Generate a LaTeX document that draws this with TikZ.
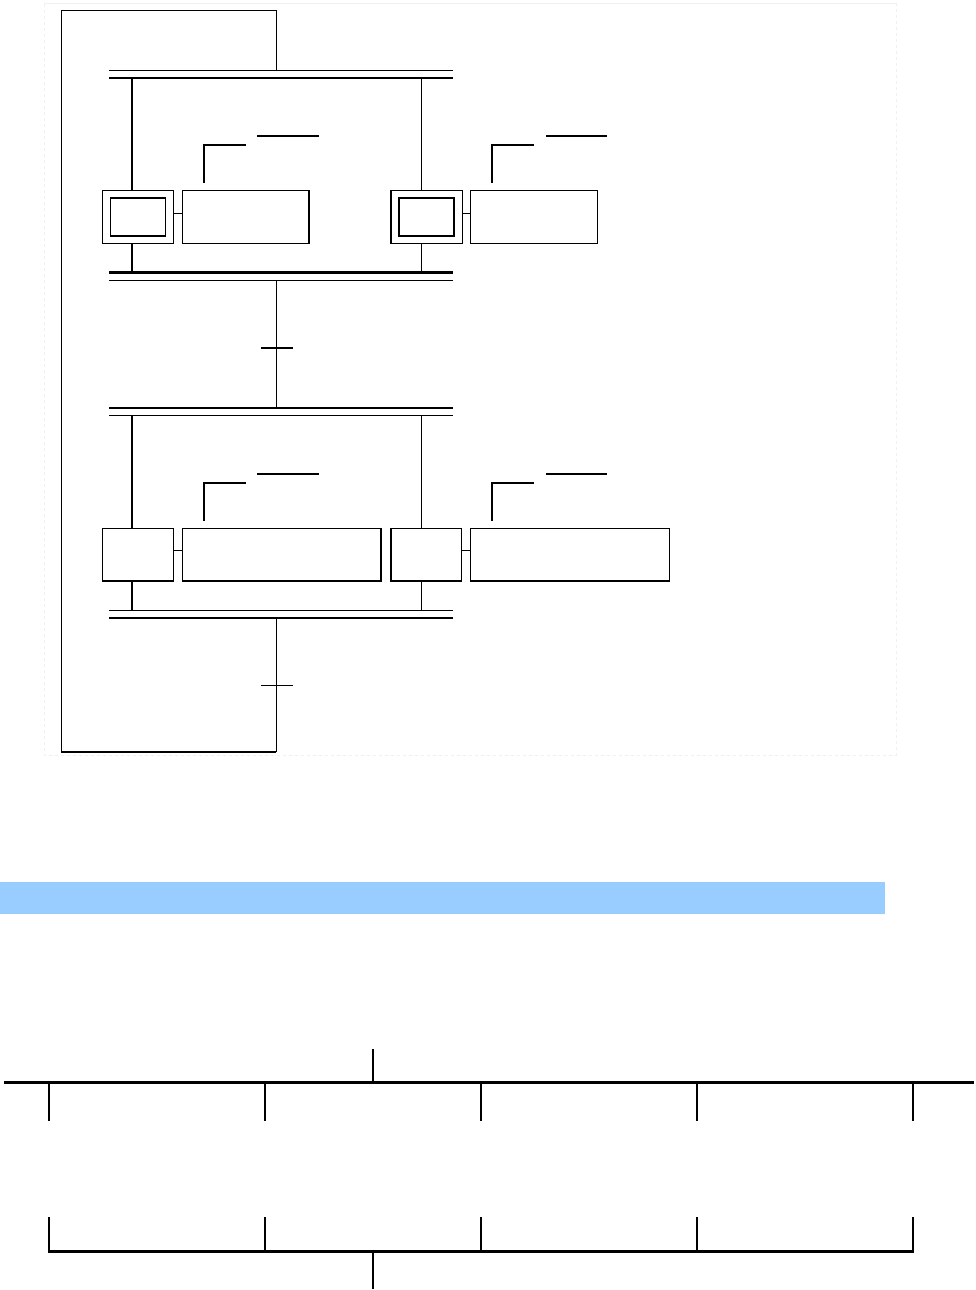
\documentclass[tikz,border=0pt]{standalone}
\definecolor{bandblue}{HTML}{99CCFF}
\begin{document}
\begin{tikzpicture}[x=1pt,y=-1pt,
  thinline/.style={line width=1pt},
  thickline/.style={line width=2.2pt},
  box/.style={draw, line width=1.3pt, inner sep=0pt, anchor=north west},
  innerbox/.style={draw, line width=1.6pt, inner sep=0pt, minimum width=55pt, minimum height=38pt},
  bracket/.style={line width=1.6pt},
  overbar/.style={line width=1.5pt},
  heavy/.style={line width=3pt},
  stub/.style={line width=2pt}
]
\useasboundingbox (0,0) rectangle (976,1290);
\fill[white] (0,0) rectangle (976,1290);
% faint frame
\draw[black!6, line width=0.8pt] (44,3) -- (896,3);
\draw[black!6, dashed, line width=0.8pt] (896,3) -- (896,755) -- (44,755) -- (44,3);

% ---------- group 1 ----------
\node[box, minimum width=71pt, minimum height=53pt] (s1) at (101.7,190) {};
\node[innerbox] (s1i) at (s1.center) {};
\node[box, minimum width=126.6pt, minimum height=53pt] (a1) at (181.7,190) {};
\node[box, minimum width=71.4pt, minimum height=53pt] (s2) at (390.3,190) {};
\node[innerbox] (s2i) at (s2.center) {};
\node[box, minimum width=127.5pt, minimum height=53pt] (a2) at (469.5,190) {};
\draw[thinline] ([yshift=3.5pt]s1.east) -- ([yshift=3.5pt]a1.west);
\draw[line width=1.6pt] ([yshift=3.5pt]s2.east) -- ([yshift=3.5pt]a2.west);

\coordinate (d1l) at (109,71);  \coordinate (d1r) at (453,71);
\coordinate (d2l) at (109,78);  \coordinate (d2r) at (453,78);
\draw[thinline] (d1l) -- (d1r);
\draw[thickline] (d2l) -- (d2r);
\coordinate (c1l) at (109,272.5); \coordinate (c1r) at (453,272.5);
\coordinate (c2l) at (109,280);   \coordinate (c2r) at (453,280);
\draw[thickline] (c1l) -- (c1r);
\draw[thinline] (c2l) -- (c2r);

\coordinate (b1) at (132,78);
\coordinate (b2) at (421,78);
\draw[thickline] (b1) -- (b1 |- s1.north);
\draw[thickline] (b1 |- s1.south) -- (b1 |- c1l);
\draw[thinline] (b2) -- (b2 |- s2.north);
\draw[thinline] (b2 |- s2.south) -- (b2 |- c1l);

% comments group 1
\coordinate (k1) at (203.7,183);
\draw[bracket] (k1) -- (203.7,145) -- (245.7,145);
\coordinate (o1) at (257,136);
\draw[overbar] (o1) -- (319,136);
\coordinate (k2) at (492,183);
\draw[bracket] (k2) -- (492,145) -- (534,145);
\coordinate (o2) at (546,136);
\draw[overbar] (o2) -- (607,136);

% transition between groups
\coordinate (m1) at (276,280);
\coordinate (m2) at (276,408);
\draw[thinline] (m1) -- (m2);
\coordinate (tr1l) at (261,348); \coordinate (tr1r) at (293,348);
\draw[thickline] (tr1l) -- (tr1r);

% ---------- group 2 ----------
\coordinate (e1l) at (109,408);   \coordinate (e1r) at (453,408);
\coordinate (e2l) at (109,415.5); \coordinate (e2r) at (453,415.5);
\draw[thickline] (e1l) -- (e1r);
\draw[thinline] (e2l) -- (e2r);

\node[box, minimum width=71.4pt, minimum height=52.3pt] (s3) at (101.6,528) {};
\node[box, minimum width=198.7pt, minimum height=52.3pt] (a3) at (181.5,528) {};
\node[box, minimum width=70.6pt, minimum height=52.3pt] (s4) at (390.4,528) {};
\node[box, minimum width=199.5pt, minimum height=52.3pt] (a4) at (469.5,528) {};
\draw[thinline] ([yshift=4pt]s3.east) -- ([yshift=4pt]a3.west);
\draw[thinline] ([yshift=4pt]s4.east) -- ([yshift=4pt]a4.west);

\coordinate (f1l) at (109,610); \coordinate (f1r) at (453,610);
\coordinate (f2l) at (109,618); \coordinate (f2r) at (453,618);
\draw[thinline] (f1l) -- (f1r);
\draw[thickline] (f2l) -- (f2r);

\coordinate (b3) at (132,415.5);
\coordinate (b4) at (421,415.5);
\draw[thickline] (b3) -- (b3 |- s3.north);
\draw[thickline] (b3 |- s3.south) -- (b3 |- f1l);
\draw[thinline] (b4) -- (b4 |- s4.north);
\draw[thinline] (b4 |- s4.south) -- (b4 |- f1l);

% comments group 2
\coordinate (k3) at (203.7,521);
\draw[bracket] (k3) -- (203.7,483) -- (245.5,483);
\coordinate (o3) at (257,474);
\draw[overbar, line width=2pt] (o3) -- (319,474);
\coordinate (k4) at (492,521);
\draw[bracket] (k4) -- (492,483) -- (534,483);
\coordinate (o4) at (546,474);
\draw[overbar, line width=2pt] (o4) -- (607,474);

% return loop
\coordinate (r0) at (276,618);
\coordinate (r1) at (276,752);
\coordinate (r2) at (61,752);
\coordinate (r3) at (61,11);
\coordinate (r4) at (276,11);
\coordinate (r5) at (276,71);
\draw[thinline] (r0) -- (r1);
\draw[thickline] (r1) -- (r2);
\draw[thinline] (r2) -- (r3) -- (r4) -- (r5);
\coordinate (tr2l) at (261,685); \coordinate (tr2r) at (293,685);
\draw[thinline] (tr2l) -- (tr2r);

% ---------- blue band ----------
\fill[bandblue] (0,882) rectangle (885,913.5);

% ---------- bottom divergence / convergence ----------
\coordinate (h1l) at (4,1082);  \coordinate (h1r) at (974,1082);
\draw[heavy] (h1l) -- (h1r);
\coordinate (u1) at (373,1049);
\draw[stub] (u1) -- (u1 |- h1l);
\foreach \xx in {49,265,481,697,913} {
  \draw[stub] (\xx,1082) -- (\xx,1121);
  \draw[stub] (\xx,1217) -- (\xx,1251);
}
\coordinate (h2l) at (48,1251); \coordinate (h2r) at (914,1251);
\draw[heavy] (h2l) -- (h2r);
\coordinate (u2) at (373,1289);
\draw[stub] (u2 |- h2l) -- (u2);
\end{tikzpicture}
\end{document}
